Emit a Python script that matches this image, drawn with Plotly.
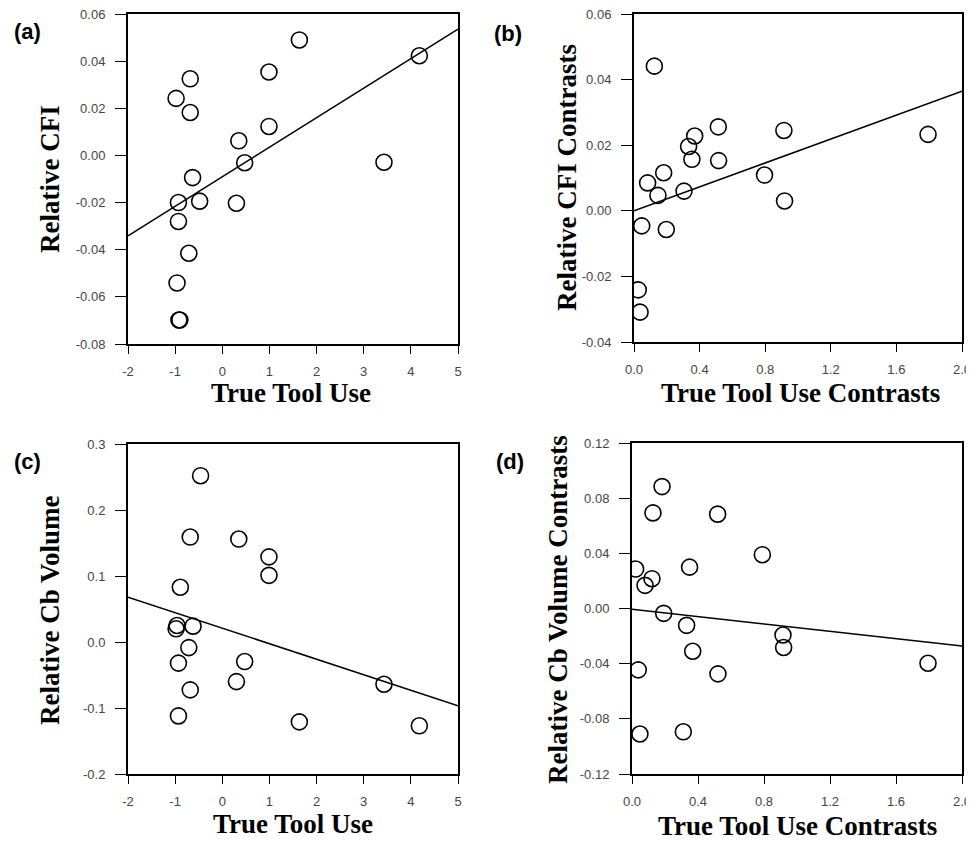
import plotly.graph_objects as go

# ---------------- data ----------------
# Panel (a): True Tool Use vs Relative CFI
a_x = [1.635, 4.18, -0.68, 0.99, -0.98, -0.68, 0.99, 0.35, 0.475, 3.43, -0.63, -0.48, -0.93, 0.30, -0.93, -0.71, -0.96, -0.92, -0.90]
a_y = [0.049, 0.0423, 0.0325, 0.0354, 0.0242, 0.0182, 0.0123, 0.0062, -0.0031, -0.0029, -0.0094, -0.0194, -0.020, -0.0203, -0.028, -0.0415, -0.0541, -0.0698, -0.0698]
a_fit_x = [-2, 5]
a_fit_y = [-0.0341, 0.0536]

# Panel (b): True Tool Use Contrasts vs Relative CFI Contrasts
b_x = [0.124, 0.514, 0.914, 1.793, 0.37, 0.333, 0.353, 0.516, 0.181, 0.796, 0.083, 0.146, 0.305, 0.918, 0.047, 0.197, 0.026, 0.037]
b_y = [0.0441, 0.0256, 0.0245, 0.0233, 0.0228, 0.0196, 0.0157, 0.0153, 0.0116, 0.0109, 0.0085, 0.0047, 0.006, 0.003, -0.0046, -0.0057, -0.0241, -0.0309]
b_fit_x = [0.0, 2.0]
b_fit_y = [0.0, 0.0365]

# Panel (c): True Tool Use vs Relative Cb Volume
c_x = [-0.46, -0.68, 0.35, 0.99, 0.99, -0.89, -0.98, -0.96, -0.62, -0.71, -0.93, 0.475, 0.30, 3.43, -0.68, -0.93, 1.635, 4.18]
c_y = [0.252, 0.159, 0.156, 0.129, 0.101, 0.083, 0.020, 0.025, 0.024, -0.0085, -0.032, -0.0296, -0.060, -0.064, -0.0725, -0.112, -0.121, -0.127]
c_fit_x = [-2, 5]
c_fit_y = [0.068, -0.0967]

# Panel (d): True Tool Use Contrasts vs Relative Cb Volume Contrasts
d_x = [0.182, 0.127, 0.519, 0.79, 0.349, 0.022, 0.121, 0.079, 0.192, 0.331, 0.915, 0.919, 0.368, 1.794, 0.038, 0.521, 0.311, 0.048]
d_y = [0.0884, 0.0693, 0.0684, 0.039, 0.030, 0.0286, 0.0216, 0.0168, -0.0035, -0.0122, -0.0192, -0.0283, -0.031, -0.0397, -0.0445, -0.0474, -0.0894, -0.091]
d_fit_x = [0.0, 2.0]
d_fit_y = [-0.0006, -0.0271]

# tick values / labels
xt_tool = [-2, -1, 0, 1, 2, 3, 4, 5]
xt_tool_lbl = ["-2", "-1", "0", "1", "2", "3", "4", "5"]
xt_con = [0.0, 0.4, 0.8, 1.2, 1.6, 2.0]
xt_con_lbl = ["0.0", "0.4", "0.8", "1.2", "1.6", "2.0"]
yt_a = [-0.08, -0.06, -0.04, -0.02, 0.0, 0.02, 0.04, 0.06]
yt_a_lbl = ["-0.08", "-0.06", "-0.04", "-0.02", "0.00", "0.02", "0.04", "0.06"]
yt_b = [-0.04, -0.02, 0.0, 0.02, 0.04, 0.06]
yt_b_lbl = ["-0.04", "-0.02", "0.00", "0.02", "0.04", "0.06"]
yt_c = [-0.2, -0.1, 0.0, 0.1, 0.2, 0.3]
yt_c_lbl = ["-0.2", "-0.1", "0.0", "0.1", "0.2", "0.3"]
yt_d = [-0.12, -0.08, -0.04, 0.0, 0.04, 0.08, 0.12]
yt_d_lbl = ["-0.12", "-0.08", "-0.04", "0.00", "0.04", "0.08", "0.12"]

panel_labels = ["(a)", "(b)", "(c)", "(d)"]
x_titles = ["True Tool Use", "True Tool Use Contrasts", "True Tool Use", "True Tool Use Contrasts"]
y_titles = ["Relative CFI", "Relative CFI Contrasts", "Relative Cb Volume", "Relative Cb Volume Contrasts"]

# ---------------- layout geometry (pixels, page coordinates) ----------------
# the page body adds an 8px margin, so figure coordinates = page coordinates - 8
OFF = 8
W, H = 974 - OFF, 841 - OFF
boxes = [  # left, right, top, bottom (page pixels)
    (128, 458, 14, 344),
    (634, 962, 14, 342),
    (128, 458, 444, 774),
    (632, 962, 443, 774),
]

def fx_(p):
    return (p - OFF) / W

def fy_(p):
    return 1 - (p - OFF) / H

fig = go.Figure()

panels = [
    (a_x, a_y, a_fit_x, a_fit_y, [-2, 5], [-0.08, 0.06], xt_tool, xt_tool_lbl, yt_a, yt_a_lbl),
    (b_x, b_y, b_fit_x, b_fit_y, [0, 2.0], [-0.04, 0.06], xt_con, xt_con_lbl, yt_b, yt_b_lbl),
    (c_x, c_y, c_fit_x, c_fit_y, [-2, 5], [-0.2, 0.3], xt_tool, xt_tool_lbl, yt_c, yt_c_lbl),
    (d_x, d_y, d_fit_x, d_fit_y, [0, 2.0], [-0.12, 0.12], xt_con, xt_con_lbl, yt_d, yt_d_lbl),
]

tick_font = dict(family="Liberation Sans", size=13, color="#444")

for i, (px, py, fx, fy, xr, yr, xtv, xtl, ytv, ytl) in enumerate(panels):
    n = "" if i == 0 else str(i + 1)
    xa = "x" + n
    ya = "y" + n
    fig.add_trace(go.Scatter(x=fx, y=fy, mode="lines", xaxis=xa, yaxis=ya,
                             line=dict(color="black", width=1.5), showlegend=False,
                             hoverinfo="skip"))
    fig.add_trace(go.Scatter(x=px, y=py, mode="markers", xaxis=xa, yaxis=ya,
                             marker=dict(symbol="circle-open", size=16, color="black",
                                         line=dict(width=1.6, color="black")),
                             showlegend=False))
    l, r, t, b = boxes[i]
    fig.layout["xaxis" + n] = dict(
        domain=[fx_(l), fx_(r)], anchor=ya, range=xr, showgrid=False, zeroline=False,
        showline=True, linecolor="black", linewidth=2, mirror=True, automargin=False,
        ticks="outside", ticklen=8, tickwidth=1, tickcolor="black",
        tickvals=xtv, ticktext=xtl, tickfont=tick_font, ticklabelstandoff=6,
        ticklabeloverflow="allow",
    )
    fig.layout["yaxis" + n] = dict(
        domain=[fy_(b), fy_(t)], anchor=xa, range=yr, showgrid=False, zeroline=False,
        showline=True, linecolor="black", linewidth=2, mirror=True, automargin=False,
        ticks="outside", ticklen=11, tickwidth=1, tickcolor="black",
        tickvals=ytv, ticktext=ytl, tickfont=tick_font, ticklabelstandoff=7,
        ticklabeloverflow="allow",
    )

title_font = dict(family="Liberation Serif", size=27, color="black")
label_font = dict(family="Liberation Sans", size=22, color="black")

lbl_pos = [(27, 32), (508, 33), (27, 461), (510, 461)]
xt_pos = [(291, 393), (800, 393), (293, 824), (797, 826)]
yt_pos = [(50, 179), (567, 178), (50, 610), (558, 610)]

ann = []
for i in range(4):
    lx, ly = lbl_pos[i]
    ann.append(dict(text="<b>" + panel_labels[i] + "</b>", x=fx_(lx), y=fy_(ly),
                    xref="paper", yref="paper", xanchor="center", yanchor="middle",
                    showarrow=False, font=label_font))
    tx, ty = xt_pos[i]
    ann.append(dict(text="<b>" + x_titles[i] + "</b>", x=fx_(tx), y=fy_(ty),
                    xref="paper", yref="paper", xanchor="center", yanchor="middle",
                    showarrow=False, font=title_font))
    yx, yy = yt_pos[i]
    ann.append(dict(text="<b>" + y_titles[i] + "</b>", x=fx_(yx), y=fy_(yy),
                    xref="paper", yref="paper", xanchor="center", yanchor="middle",
                    textangle=-90, showarrow=False, font=title_font))

fig.update_layout(
    width=W, height=H, margin=dict(l=0, r=0, t=0, b=0, autoexpand=False),
    paper_bgcolor="white", plot_bgcolor="white", annotations=ann,
)

fig.write_html("out.html")
